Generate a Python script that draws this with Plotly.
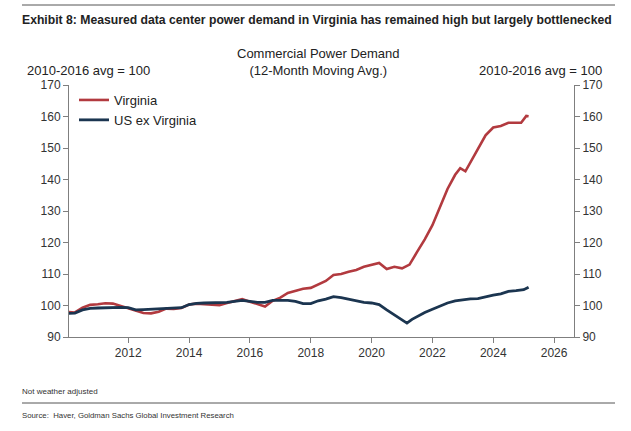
import plotly.graph_objects as go

va_dates = ["2010-01","2010-04","2010-07","2010-10","2011-01","2011-04","2011-07","2011-10",
            "2012-01","2012-04","2012-07","2012-10","2013-01","2013-04","2013-07","2013-10",
            "2014-01","2014-04","2014-07","2014-10","2015-01","2015-04","2015-07","2015-10",
            "2016-01","2016-04","2016-07","2016-10","2017-01","2017-04","2017-07","2017-10",
            "2018-01","2018-04","2018-07","2018-10","2019-01","2019-04","2019-07","2019-10",
            "2020-01","2020-04","2020-07","2020-10","2021-01","2021-04","2021-07","2021-10",
            "2022-01","2022-04","2022-07","2022-10","2022-12","2023-02","2023-04","2023-07",
            "2023-10","2024-01","2024-04","2024-07","2024-10","2024-12","2025-02","2025-03"]
virginia = [98.0,97.8,99.3,100.2,100.4,100.7,100.6,99.8,
            99.0,98.3,97.6,97.5,98.0,99.0,98.9,99.2,
            100.3,100.6,100.5,100.2,100.1,100.8,101.5,102.0,
            101.2,100.5,99.7,101.5,102.5,104.0,104.6,105.3,
            105.6,106.8,107.8,109.7,110.0,110.7,111.3,112.3,
            113.0,113.5,111.6,112.3,111.8,113.0,117.0,121.0,
            125.5,131.5,137.0,141.5,143.6,142.6,145.5,149.5,
            154.0,156.5,157.0,158.0,158.1,158.0,160.2,160.1]

us_dates = ["2010-01","2010-04","2010-07","2010-10","2011-01","2011-04","2011-07","2011-10",
            "2012-01","2012-04","2012-07","2012-10","2013-01","2013-04","2013-07","2013-10",
            "2014-01","2014-04","2014-07","2014-10","2015-01","2015-04","2015-07","2015-10",
            "2016-01","2016-04","2016-07","2016-10","2017-01","2017-04","2017-07","2017-10",
            "2018-01","2018-04","2018-07","2018-10","2019-01","2019-04","2019-07","2019-10",
            "2020-01","2020-04","2020-07","2020-10","2021-01","2021-03","2021-05","2021-07",
            "2021-10","2022-01","2022-04","2022-07","2022-10","2023-01","2023-04","2023-07",
            "2023-10","2024-01","2024-04","2024-07","2024-10","2025-01","2025-03"]
us_ex_virginia = [97.5,97.6,98.6,99.1,99.2,99.3,99.4,99.4,
                  99.3,98.6,98.7,98.8,98.9,99.2,99.1,99.3,
                  100.3,100.7,100.8,100.8,100.9,101.0,101.3,101.6,
                  101.3,101.0,101.0,101.6,101.6,101.6,101.3,100.6,
                  100.6,101.5,102.0,102.8,102.5,102.0,101.3,101.0,
                  100.8,100.3,98.6,97.0,95.4,94.4,95.6,96.5,
                  97.8,98.8,99.8,100.8,101.5,101.9,102.1,102.2,
                  102.8,103.3,103.7,104.5,104.7,105.0,105.8]

year_ticks = ["2012-01-01","2014-01-01","2016-01-01","2018-01-01","2020-01-01",
              "2022-01-01","2024-01-01","2026-01-01"]
year_labels = ["2012","2014","2016","2018","2020","2022","2024","2026"]
y_ticks = [90,100,110,120,130,140,150,160,170]

RED = "#B23A3F"
NAVY = "#1B3550"
AX = "#7F7F7F"
FONT = "Liberation Sans, Arial, sans-serif"

W, H = 631, 431
L, R, T, B = 69, 574, 85, 337

def px(x):
    return (x - L) / (R - L)

def py(y):
    return (B - y) / (B - T)

fig = go.Figure()
fig.add_trace(go.Scatter(x=va_dates, y=virginia, mode="lines", name="Virginia",
                         line=dict(color=RED, width=2.6), yaxis="y"))
fig.add_trace(go.Scatter(x=us_dates, y=us_ex_virginia, mode="lines", name="US ex Virginia",
                         line=dict(color=NAVY, width=2.8), yaxis="y2"))

axis_common = dict(range=[90, 170], tickvals=y_ticks, ticks="outside", ticklen=5,
                   tickcolor=AX, showline=True, linecolor=AX, linewidth=1,
                   showgrid=False, zeroline=False,
                   tickfont=dict(family=FONT, size=12, color="#333333"))

fig.update_layout(
    width=W, height=H,
    margin=dict(l=L, r=W - R, t=T, b=H - B, pad=0),
    paper_bgcolor="white", plot_bgcolor="white",
    showlegend=True,
    legend=dict(x=px(74), y=py(85), xanchor="left", yanchor="top",
                bgcolor="rgba(0,0,0,0)", font=dict(family=FONT, size=13, color="#222222"),
                tracegroupgap=0, itemwidth=30),
    xaxis=dict(type="date", range=["2010-01-20", "2026-08-28"],
               tickvals=year_ticks, ticktext=year_labels,
               ticks="outside", ticklen=5, tickcolor=AX,
               showline=True, linecolor=AX, linewidth=1, showgrid=False, zeroline=False,
               tickfont=dict(family=FONT, size=12, color="#333333")),
    yaxis=dict(side="left", **axis_common),
    yaxis2=dict(side="right", overlaying="y", **axis_common),
)

ann = [
    dict(text="<b>Exhibit 8: Measured data center power demand in Virginia has remained high but largely bottlenecked</b>",
         x=px(20), y=py(20), xanchor="left", yanchor="middle",
         font=dict(family=FONT, size=12.2, color="#222222")),
    dict(text="Commercial Power Demand<br>(12-Month Moving Avg.)",
         x=px(318), y=py(62), xanchor="center", yanchor="middle",
         font=dict(family=FONT, size=13, color="#222222")),
    dict(text="2010-2016 avg = 100", x=px(88), y=py(70), xanchor="center", yanchor="middle",
         font=dict(family=FONT, size=13, color="#222222")),
    dict(text="2010-2016 avg = 100", x=px(540), y=py(70), xanchor="center", yanchor="middle",
         font=dict(family=FONT, size=13, color="#222222")),
    dict(text="Not weather adjusted", x=px(20), y=py(391), xanchor="left", yanchor="middle",
         font=dict(family=FONT, size=8, color="#333333")),
    dict(text="Source:  Haver, Goldman Sachs Global Investment Research", x=px(20), y=py(415),
         xanchor="left", yanchor="middle",
         font=dict(family=FONT, size=7.8, color="#333333")),
]
for a in ann:
    a.update(xref="paper", yref="paper", showarrow=False, align="center")
    fig.add_annotation(**a)

fig.add_shape(type="line", xref="paper", yref="paper", x0=px(22), x1=px(615), y0=py(5), y1=py(5),
              line=dict(color="#555555", width=1))
fig.add_shape(type="line", xref="paper", yref="paper", x0=px(22), x1=px(615), y0=py(403), y1=py(403),
              line=dict(color="#555555", width=1))

fig.write_html("out.html", config={"displayModeBar": False},
               post_script="document.body.style.margin='0';document.body.style.padding='0';")
